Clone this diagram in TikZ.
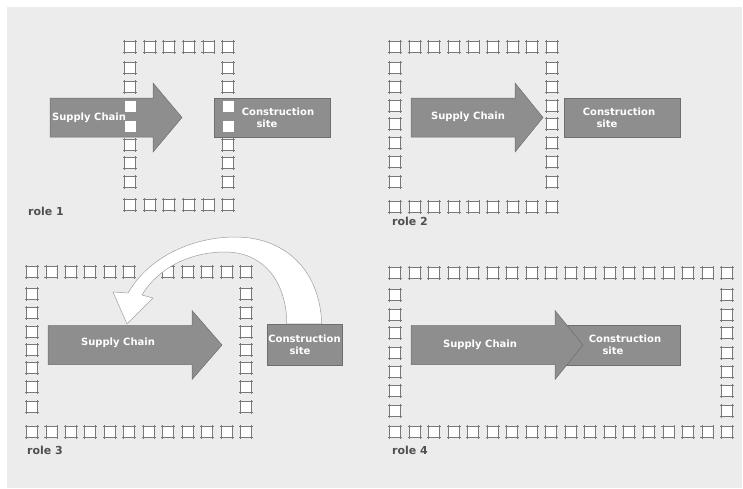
\documentclass[tikz,border=0pt]{standalone}
\usepackage{fontspec}
\setsansfont{DejaVu Sans}
\usepackage{xcolor}
\usepackage{tikz}
\usetikzlibrary{calc}

\definecolor{bggray}{RGB}{236,236,236}
\definecolor{arrowgray}{RGB}{142,142,142}
\definecolor{edgegray}{RGB}{110,110,110}
\definecolor{scafgray}{RGB}{120,120,120}
\definecolor{rolegray}{RGB}{80,80,80}

% supply chain block arrow: tail x, head x, tip x, centre y
\newcommand{\supplyarrow}[4]{%
  \filldraw[chainarrow] (#1,#4-19.5) -- (#2,#4-19.5) -- (#2,#4-34.5) -- (#3,#4)
    -- (#2,#4+34.5) -- (#2,#4+19.5) -- (#1,#4+19.5) -- cycle;}

\begin{document}
\begin{tikzpicture}[x=1pt,y=-1pt,
  every node/.style={font=\sffamily\bfseries\fontsize{10}{12}\selectfont,align=center},
  scafline/.style={draw=scafgray,line width=0.8pt},
  scaf/.pic={\fill[white] (-5.5,-5.5) rectangle (5.5,5.5);
    \draw[scafline] (-7,-5.5) -- (7,-5.5) (-7,5.5) -- (7,5.5) (-5.5,-7) -- (-5.5,7) (5.5,-7) -- (5.5,7);},
  sitebox/.style={draw=edgegray,fill=arrowgray,text=white,inner sep=1pt,line width=0.5pt},
  chainarrow/.style={fill=arrowgray,draw=edgegray,line width=0.5pt},
  chainlabel/.style={text=white,inner sep=0pt},
  rolelabel/.style={anchor=west,text=rolegray,inner sep=0pt,font=\sffamily\bfseries\fontsize{11}{13}\selectfont},
  backarrow/.style={fill=white,draw=gray!75,line width=0.5pt}]
\useasboundingbox (0,0) rectangle (743,488);
\fill[white] (0,0) rectangle (743,488);
\fill[bggray] (7,7) rectangle (742,488);

% role 1
\foreach \i in {0,...,5} {\pic at (130+19.6*\i,47) {scaf}; \pic at (130+19.6*\i,205) {scaf};}
\foreach \y in {68,87,145,163,182} {\pic at (130,\y) {scaf}; \pic at (228,\y) {scaf};}
\node[sitebox,minimum width=116,minimum height=39] (site1) at (272,117.5) {\hspace*{12pt}Construction\\site\hspace*{10pt}};
\supplyarrow{50}{153}{182}{117.5}
\foreach \y in {106,126} {\fill[white] (124.5,\y-5.5) rectangle (135.5,\y+5.5); \fill[white] (222.5,\y-5.5) rectangle (233.5,\y+5.5);}
\node[chainlabel] (chain1) at (89,118) {Supply Chain};
\node[rolelabel] (role1) at (28,211) {role 1};

% role 2
\foreach \i in {0,...,8} {\pic at (395+19.6*\i,47) {scaf}; \pic at (395+19.6*\i,207) {scaf};}
\foreach \y in {68,87,106,124,143,162,182} {\pic at (395,\y) {scaf}; \pic at (552,\y) {scaf};}
\node[sitebox,minimum width=116,minimum height=39] (site2) at (622,117.5) {Construction\hspace*{6pt}\\site\hspace*{30pt}};
\supplyarrow{411}{515}{543}{117.5}
\node[chainlabel] (chain2) at (468,117) {Supply Chain};
\node[rolelabel] (role2) at (392,221) {role 2};

% role 3
\foreach \i in {0,...,5,7,8,...,11} {\pic at (32+19.45*\i,272) {scaf};}
\foreach \i in {0,...,11} {\pic at (32+19.45*\i,432) {scaf};}
\foreach \y in {294,313,332,350,368,387,407} {\pic at (32,\y) {scaf}; \pic at (246,\y) {scaf};}
\node[sitebox,minimum width=75,minimum height=41] (site3) at (304.5,344.5) {Construction\\site\hspace*{9pt}};
\supplyarrow{48}{192}{222}{345}
\node[chainlabel] (chain3) at (118,343) {Supply Chain};
\coordinate (tip3) at (127,324);
\filldraw[backarrow] ($(site3.north west)+(55,0)$) .. controls ($(site3.north west)+(53,-54)$) and (285,237) .. (235,237)
  .. controls (195,237) and (150,255) .. (128,293) -- (113,292) -- (tip3) -- (153,298) -- (142,295)
  .. controls (158,268) and (190,252) .. (225,252)
  .. controls (265,252) and ($(site3.north west)+(20,-40)$) .. ($(site3.north west)+(20,0)$) -- cycle;
\node[rolelabel] (role3) at (27,450) {role 3};

% role 4
\foreach \i in {0,...,17} {\pic at (395+19.53*\i,273) {scaf}; \pic at (395+19.53*\i,432) {scaf};}
\foreach \y in {295,315,333,353,372,391,411} {\pic at (395,\y) {scaf}; \pic at (727,\y) {scaf};}
\node[sitebox,minimum width=125,minimum height=40] (site4) at (617.5,345) {\hspace*{15pt}Construction\\site\hspace*{9pt}};
\supplyarrow{411}{555}{583}{345}
\node[chainlabel] (chain4) at (480,345) {Supply Chain};
\node[rolelabel] (role4) at (392,450) {role 4};
\end{tikzpicture}
\end{document}
